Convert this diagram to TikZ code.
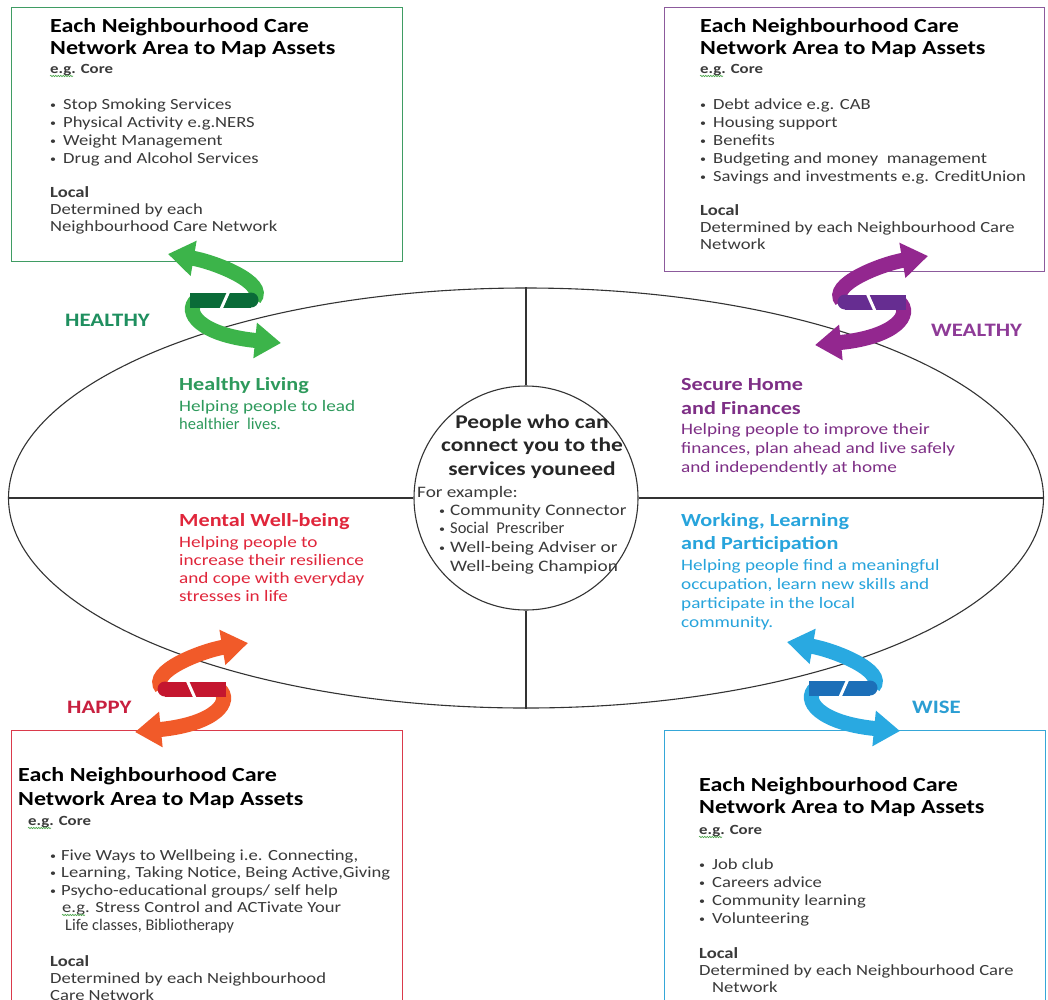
\documentclass[tikz,border=0pt]{standalone}
\usepackage{fontspec}
\setmainfont{Carlito}[FakeStretch=1.2]
\newfontfamily\plainf{Carlito}
\usetikzlibrary{arrows.meta,decorations.pathmorphing,shapes.geometric}
\definecolor{gBand}{HTML}{3CB44A}
\definecolor{gDark}{HTML}{0A6B38}
\definecolor{pBand}{HTML}{93278F}
\definecolor{pDark}{HTML}{662D91}
\definecolor{oBand}{HTML}{F15A29}
\definecolor{oDark}{HTML}{C4162F}
\definecolor{bBand}{HTML}{29A9E1}
\definecolor{bDark}{HTML}{1C6FB8}
\definecolor{gTxt}{HTML}{2E9A5C}
\definecolor{gLab}{HTML}{1F8F5F}
\definecolor{pTxt}{HTML}{7E2F86}
\definecolor{pLab}{HTML}{8E3B97}
\definecolor{rTxt}{HTML}{E0263B}
\definecolor{rLab}{HTML}{C8203F}
\definecolor{cTxt}{HTML}{27A4DC}
\definecolor{cLab}{HTML}{2B9ED3}
\definecolor{gBox}{HTML}{3F9C63}
\definecolor{pBox}{HTML}{8C5A9C}
\definecolor{rBox}{HTML}{DA3A4B}
\definecolor{cBox}{HTML}{35A7D8}
\definecolor{bodyGray}{HTML}{3A3A3A}
\definecolor{lineGray}{HTML}{333333}
\newcommand\fs[2]{\fontsize{#1}{#2}\selectfont}
\newcommand\smalldot{\raisebox{1pt}{\fontsize{10}{10}\selectfont\textbullet}}
\newcommand\bu{\makebox[13pt][l]{\smalldot}}
\newcommand\bux{\makebox[11pt][l]{\smalldot}}
\newcommand\ribbon[2]{%
  \draw[line width=15pt,#1,-{Triangle[width=34pt,length=26pt]}] (254,299) .. controls (268,283) and (215,262) .. (168,254);
  \draw[line width=15pt,#1,-{Triangle[width=34pt,length=26pt]}] (197,300) .. controls (183,312) and (200,335) .. (281,343);
  \draw[line width=15pt,#2] (190,300) -- (251,300);
  \fill[#2] (251,300) circle[radius=7.5];
  \draw[white,line width=3pt] (229,291) -- (221,309);
}
\tikzset{
  txt/.style={anchor=base west,inner sep=0pt,text=bodyGray},
  box/.style={draw=#1,line width=1.3pt,anchor=north west,inner sep=0pt},
  egline/.style={draw=green!50!black!70,line width=0.6pt,decorate,decoration={snake,amplitude=0.7pt,segment length=2.5pt}},
  lab/.style={anchor=base west,inner sep=0pt,font=\fs{19}{22}\bfseries},
}
\begin{document}
\begin{tikzpicture}[x=1pt,y=-1pt]
\useasboundingbox (0,0) rectangle (1048,999);
\fill[white] (0,0) rectangle (1048,999);

% boxes
\node[box=gBox,minimum width=391pt,minimum height=254pt] (boxTL) at (11,7) {};
\node[box=pBox,minimum width=380pt,minimum height=264pt] (boxTR) at (664,7) {};
\node[box=rBox,minimum width=391pt,minimum height=290pt] (boxBL) at (11,730) {};
\node[box=cBox,minimum width=381pt,minimum height=290pt] (boxBR) at (664,730) {};

% ellipse and centre
\node[draw=lineGray,line width=1.1pt,ellipse,minimum width=1035pt,minimum height=420pt,inner sep=0pt] (ell) at (526,498) {};
\node[draw=lineGray,line width=1.1pt,circle,minimum size=224pt,inner sep=0pt,fill=white] (cir) at (526,498) {};
\draw[lineGray,line width=1.1pt] (ell.west) -- (cir.west);
\draw[lineGray,line width=1.1pt] (cir.east) -- (ell.east);
\draw[lineGray,line width=1.1pt] (ell.north) -- (cir.north);
\draw[lineGray,line width=1.1pt] (cir.south) -- (ell.south);

% ---- top left box
\node[txt,text=black] (tlT) at (50,32) {\begin{minipage}[t]{350pt}\fs{20}{22}\bfseries Each Neighbourhood Care\\Network Area to Map Assets\end{minipage}};
\node[txt] (tlE) at (50,73) {\fs{14}{16}\bfseries e.g. Core};
\draw[egline] ([yshift=-3pt]tlE.base west) -- ++(23,0);
\node[txt] (tlB) at (50,109) {\begin{minipage}[t]{340pt}\fs{15.5}{18}\bu Stop Smoking Services\\\bu Physical Activity e.g.NERS\\\bu Weight Management\\\bu Drug and Alcohol Services\end{minipage}};
\node[txt] (tlL) at (50,197) {\begin{minipage}[t]{340pt}\fs{15.5}{17}\textbf{Local}\\Determined by each\\Neighbourhood Care Network\end{minipage}};

% ---- top right box
\node[txt,text=black] (trT) at (700,32) {\begin{minipage}[t]{340pt}\fs{20}{22}\bfseries Each Neighbourhood Care\\Network Area to Map Assets\end{minipage}};
\node[txt] (trE) at (700,73) {\fs{14}{16}\bfseries e.g. Core};
\draw[egline] ([yshift=-3pt]trE.base west) -- ++(23,0);
\node[txt] (trB) at (700,109) {\begin{minipage}[t]{340pt}\fs{15.5}{18}\bu Debt advice e.g. CAB\\\bu Housing support\\\bu Benefits\\\bu Budgeting and money\ \ management\\\bu Savings and investments e.g. CreditUnion\end{minipage}};
\node[txt] (trL) at (700,215) {\begin{minipage}[t]{340pt}\fs{15.5}{17}\textbf{Local}\\Determined by each Neighbourhood Care\\Network\end{minipage}};

% ---- bottom left box
\node[txt,text=black] (blT) at (18,781) {\begin{minipage}[t]{370pt}\fs{20}{24}\bfseries Each Neighbourhood Care\\Network Area to Map Assets\end{minipage}};
\node[txt] (blE) at (28,825) {\fs{14}{16}\bfseries e.g. Core};
\draw[egline] ([yshift=-3pt]blE.base west) -- ++(23,0);
\node[txt] (blB) at (50,860) {\begin{minipage}[t]{350pt}\fs{15.5}{17.5}\bux Five Ways to Wellbeing i.e. Connecting,\\\bux Learning, Taking Notice, Being Active,Giving\\\bux Psycho-educational groups/ self help\\\hspace*{12pt}e.g. Stress Control and ACTivate Your\\\hspace*{15pt}{\plainf\fs{16.3}{17.5}Life classes, Bibliotherapy}\end{minipage}};
\draw[egline] (62,915) -- ++(23,0);
\node[txt] (blL) at (50,966) {\begin{minipage}[t]{340pt}\fs{15.5}{17}\textbf{Local}\\Determined by each Neighbourhood\\Care Network\end{minipage}};

% ---- bottom right box
\node[txt,text=black] (brT) at (699,791) {\begin{minipage}[t]{340pt}\fs{20}{22}\bfseries Each Neighbourhood Care\\Network Area to Map Assets\end{minipage}};
\node[txt] (brE) at (699,834) {\fs{14}{16}\bfseries e.g. Core};
\draw[egline] ([yshift=-3pt]brE.base west) -- ++(23,0);
\node[txt] (brB) at (699,869) {\begin{minipage}[t]{340pt}\fs{15.5}{18}\bu Job club\\\bu Careers advice\\\bu Community learning\\\bu Volunteering\end{minipage}};
\node[txt] (brL) at (699,958) {\begin{minipage}[t]{340pt}\fs{15.5}{17}\textbf{Local}\\Determined by each Neighbourhood Care\\\hspace*{13pt}Network\end{minipage}};

% ---- ellipse quadrant texts
\node[txt,text=gTxt] (hlH) at (179,390) {\fs{18.5}{22}\bfseries Healthy Living};
\node[txt,text=gTxt] (hlB) at (179,411) {\begin{minipage}[t]{220pt}\fs{16}{18}Helping people to lead\\{\plainf\fs{16.5}{18}healthier\ \ lives.}\end{minipage}};
\node[txt,text=rTxt] (mwH) at (179,526) {\fs{18.5}{22}\bfseries Mental Well-being};
\node[txt,text=rTxt] (mwB) at (179,547) {\begin{minipage}[t]{220pt}\fs{16}{18}Helping people to\\increase their resilience\\and cope with everyday\\stresses in life\end{minipage}};
\node[txt,text=pTxt] (shH) at (681,390) {\begin{minipage}[t]{300pt}\fs{18.5}{24}\bfseries Secure Home\\and Finances\end{minipage}};
\node[txt,text=pTxt] (shB) at (681,434) {\begin{minipage}[t]{320pt}\fs{16}{19}Helping people to improve their\\finances, plan ahead and live safely\\and independently at home\end{minipage}};
\node[txt,text=cTxt] (wlH) at (681,526) {\begin{minipage}[t]{300pt}\fs{18.5}{23}\bfseries Working, Learning\\and Participation\end{minipage}};
\node[txt,text=cTxt] (wlB) at (681,570) {\begin{minipage}[t]{320pt}\fs{16}{19}Helping people find a meaningful\\occupation, learn new skills and\\participate in the local\\community.\end{minipage}};

% ---- centre
\node[anchor=base,inner sep=0pt,text=black!85] (cT) at (532,428) {\begin{minipage}[t]{230pt}\centering\fs{19.5}{23.5}\bfseries People who can\\connect you to the\\services youneed\end{minipage}};
\node[txt] (cE) at (417,497) {\fs{16}{18}For example:};
\node[txt] (cB) at (439,515) {\begin{minipage}[t]{200pt}\fs{16}{18.7}\bux Community Connector\\\bux{\plainf\fs{16.5}{18.7}Social\ \ Prescriber}\\\bux Well-being Adviser or\\\hspace*{11pt}Well-being Champion\end{minipage}};

% ---- labels
\node[lab,text=gLab] (lHealthy) at (65,326) {HEALTHY};
\node[lab,text=pLab] (lWealthy) at (931,336) {WEALTHY};
\node[lab,text=rLab] (lHappy) at (67,713) {HAPPY};
\node[lab,text=cLab] (lWise) at (912,713) {WISE};

% ---- ribbon arrows
\ribbon{gBand}{gDark}
\begin{scope}[shift={(1096,2)},xscale=-1]\ribbon{pBand}{pDark}\end{scope}
\begin{scope}[shift={(416,389)},xscale=-1]\ribbon{oBand}{oDark}\end{scope}
\begin{scope}[shift={(619,388)}]\ribbon{bBand}{bDark}\end{scope}
\end{tikzpicture}
\end{document}
